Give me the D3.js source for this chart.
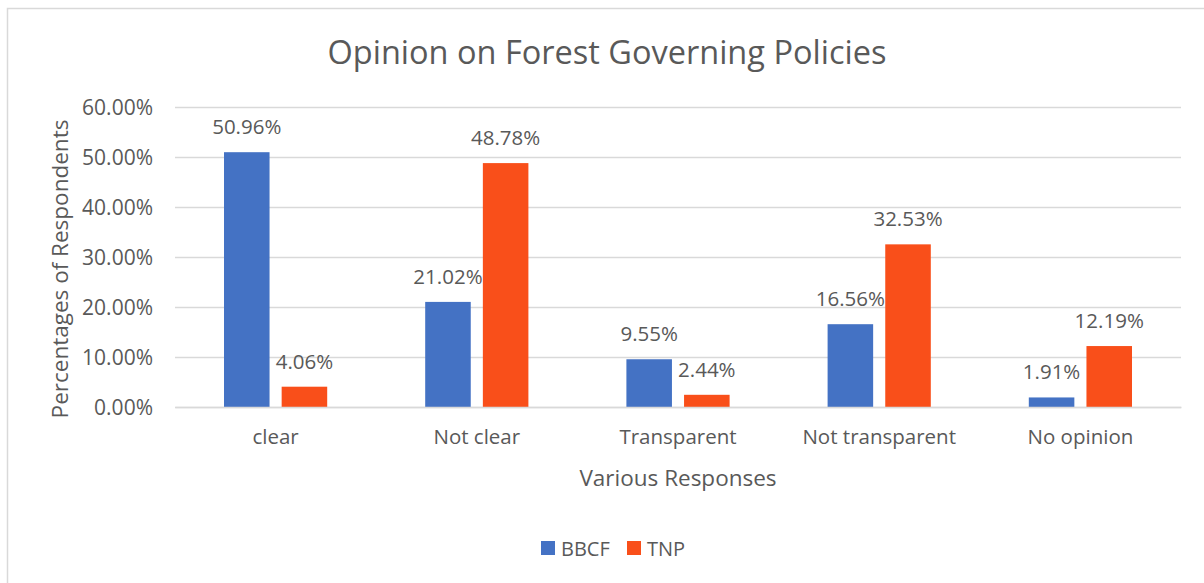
<!DOCTYPE html>
<html>
<head>
<meta charset="utf-8">
<script src="https://cdn.jsdelivr.net/npm/d3@7"></script>
<style>
  body { margin: 0; background: #fff; }
  text { font-family: 'Open Sans', 'Noto Sans', sans-serif; fill: #595959; }
</style>
</head>
<body>
<svg id="chart" width="1204" height="583"></svg>
<script>
const categories = ['clear', 'Not clear', 'Transparent', 'Not transparent', 'No opinion'];
const seriesNames = ['BBCF', 'TNP'];
const bbcf = [50.96, 21.02, 9.55, 16.56, 1.91];
const tnp = [4.06, 48.78, 2.44, 32.53, 12.19];
const yTicks = [0, 10, 20, 30, 40, 50, 60];
const colors = ['#4472C4', '#F94F1A'];

const svg = d3.select('#chart');
const width = +svg.attr('width');
const height = +svg.attr('height');

// chart border: only top and left edges show in the picture
svg.append('path')
  .attr('d', `M7.5,${height}V8.5H${width}`)
  .attr('fill', 'none').attr('stroke', '#d9d9d9').attr('stroke-width', 1.5);

const margin = { top: 107, right: 23, bottom: 176, left: 175 };
const innerWidth = width - margin.left - margin.right;
const innerHeight = height - margin.top - margin.bottom;

const g = svg.append('g')
  .attr('transform', `translate(${margin.left},${margin.top})`);

const x0 = d3.scaleBand().domain(categories).range([0, innerWidth]);
const x1 = d3.scaleBand().domain(seriesNames).range([49, x0.bandwidth() - 49]).paddingInner(0.21);
const y = d3.scaleLinear().domain([0, 60]).range([innerHeight, 0]);

// gridlines
const yAxis = d3.axisLeft(y).tickValues(yTicks).tickSize(-innerWidth)
  .tickFormat(d => d.toFixed(2) + '%');
const yAxisG = g.append('g').call(yAxis);
yAxisG.select('.domain').remove();
yAxisG.selectAll('.tick line').attr('stroke', '#d9d9d9').attr('stroke-width', 1.5);
yAxisG.selectAll('.tick text').attr('font-size', 21).attr('fill', '#595959')
  .attr('x', -22).attr('dy', '0.35em');

const rows = categories.map((c, i) => ({ cat: c, vals: [bbcf[i], tnp[i]] }));

const groups = g.selectAll('.grp').data(rows).enter().append('g')
  .attr('transform', d => `translate(${x0(d.cat)},0)`);

groups.selectAll('rect')
  .data(d => d.vals.map((v, j) => ({ name: seriesNames[j], v, j })))
  .enter().append('rect')
    .attr('x', d => x1(d.name))
    .attr('y', d => y(d.v))
    .attr('width', x1.bandwidth())
    .attr('height', d => innerHeight - y(d.v))
    .attr('fill', d => colors[d.j]);

groups.selectAll('.lbl')
  .data(d => d.vals.map((v, j) => ({ name: seriesNames[j], v, j })))
  .enter().append('text')
    .attr('class', 'lbl')
    .attr('x', d => x1(d.name) + x1.bandwidth() / 2)
    .attr('y', d => y(d.v) - 18)
    .attr('text-anchor', 'middle')
    .attr('font-size', 20.5)
    .text(d => d.v.toFixed(2) + '%');

// x axis line + labels
const xAxisG = g.append('g').attr('transform', `translate(0,${innerHeight})`)
  .call(d3.axisBottom(x0).tickSize(0).tickPadding(22));
xAxisG.select('.domain').attr('stroke', '#d9d9d9').attr('stroke-width', 1.5);
xAxisG.selectAll('.tick text').attr('font-size', 20.5).attr('fill', '#595959');

// title
svg.append('text')
  .attr('x', 607).attr('y', 64)
  .attr('text-anchor', 'middle')
  .attr('font-size', 32.5)
  .text('Opinion on Forest Governing Policies');

// axis titles
svg.append('text')
  .attr('x', margin.left + innerWidth / 2).attr('y', 486)
  .attr('text-anchor', 'middle')
  .attr('font-size', 22.5)
  .text('Various Responses');

svg.append('text')
  .attr('transform', `translate(68,${margin.top + innerHeight / 2 + 12}) rotate(-90)`)
  .attr('text-anchor', 'middle')
  .attr('font-size', 22.5)
  .text('Percentages of Respondents');

// legend
const legend = svg.append('g').attr('transform', 'translate(541,541)');
const items = legend.selectAll('g').data(seriesNames).enter().append('g')
  .attr('transform', (d, i) => `translate(${i * 86},0)`);
items.append('rect').attr('width', 14).attr('height', 14)
  .attr('fill', (d, i) => colors[i]);
items.append('text').attr('x', 20).attr('y', 14.5)
  .attr('font-size', 20)
  .text(d => d);
</script>
</body>
</html>
